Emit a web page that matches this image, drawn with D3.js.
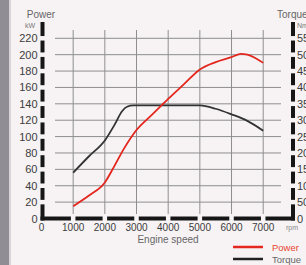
<!DOCTYPE html>
<html>
<head>
<meta charset="utf-8">
<script src="https://d3js.org/d3.v7.min.js"></script>
<style>
body { margin: 0; background: #f7f3f4; }
text { font-family: "Liberation Sans", Arial, sans-serif; }
</style>
</head>
<body>
<script>

var width = 306,
    height = 265;

// values
var rpmTicks = [1000, 2000, 3000, 4000, 5000, 6000, 7000];
var kwTicks = [0, 20, 40, 60, 80, 100, 120, 140, 160, 180, 200, 220];
var nmTicks = [0, 50, 100, 150, 200, 250, 300, 350, 400, 450, 500, 550];

var powerRpm = [1000, 1500, 2000, 2300, 2600, 3000, 3500, 4000, 4500, 5000, 5500, 6000, 6300, 6500, 6750, 7000];
var powerKw  = [15, 28, 44, 64, 85, 108, 127, 146, 164, 182, 191, 197, 201, 200, 196, 190];

var torqueRpm = [1000, 1500, 2000, 2300, 2550, 2700, 2900, 4000, 5000, 5500, 6000, 6500, 7000];
var torqueNm  = [140, 190, 238, 285, 328, 341, 345, 345, 345, 335, 318, 298, 268];

var svg = d3.select('body').append('svg')
  .attr('width', width)
  .attr('height', height);

svg.append('rect').attr('width', width).attr('height', height).attr('fill', '#f7f3f4');
svg.append('rect').attr('width', 9).attr('height', height).attr('fill', '#918d94');
svg.append('rect').attr('x', 9).attr('width', 2).attr('height', height).attr('fill', '#d8d4d8');

var x = d3.scaleLinear().domain([0, 7000]).range([41.5, 263.2]);
var yKw = d3.scaleLinear().domain([0, 220]).range([218.5, 38.3]);
var yNm = d3.scaleLinear().domain([0, 550]).range([218.5, 38.3]);

var leftX = 42.5, rightX = 293, baseY = 218.5, gap = 4.5;

// grid
svg.append('g').selectAll('line.v')
  .data(rpmTicks)
  .enter().append('line')
  .attr('x1', d => x(d)).attr('x2', d => x(d))
  .attr('y1', 30).attr('y2', 214)
  .attr('stroke', '#8e8e8e').attr('stroke-width', 1);

svg.append('g').selectAll('line.h')
  .data(kwTicks.slice(1))
  .enter().append('line')
  .attr('x1', 55).attr('x2', 281)
  .attr('y1', d => yKw(d)).attr('y2', d => yKw(d))
  .attr('stroke', '#8e8e8e').attr('stroke-width', 1);

// dashed axis bars, broken at each tick
function bars(stops, fn) {
  var segs = [];
  for (var i = 0; i < stops.length - 1; i++) segs.push([stops[i], stops[i + 1]]);
  svg.append('g').selectAll('line')
    .data(segs)
    .enter().append('line')
    .each(fn)
    .attr('stroke', '#161616').attr('stroke-width', 4);
}

var yStops = [baseY + 2].concat(kwTicks.slice(1).map(d => yKw(d)), [22]);
bars(yStops, function(s, i) {
  var a = i === 0 ? s[0] : s[0] - gap / 2,
      b = i === yStops.length - 2 ? s[1] : s[1] + gap / 2;
  d3.select(this).attr('x1', leftX).attr('x2', leftX).attr('y1', a).attr('y2', b);
});
bars(yStops, function(s, i) {
  var a = i === 0 ? s[0] : s[0] - gap / 2,
      b = i === yStops.length - 2 ? s[1] : s[1] + gap / 2;
  d3.select(this).attr('x1', rightX).attr('x2', rightX).attr('y1', a).attr('y2', b);
});
var xStops = [leftX - 2].concat(rpmTicks.map(d => x(d)), [rightX + 2]);
bars(xStops, function(s, i) {
  var a = i === 0 ? s[0] : s[0] + gap / 2,
      b = i === xStops.length - 2 ? s[1] : s[1] - gap / 2;
  d3.select(this).attr('x1', a).attr('x2', b).attr('y1', baseY).attr('y2', baseY);
});

// tick labels
svg.append('g').selectAll('text')
  .data(kwTicks)
  .enter().append('text')
  .attr('x', 37.5).attr('y', d => yKw(d) + 4)
  .attr('text-anchor', 'end')
  .attr('font-size', 11).attr('fill', '#3c3c3c')
  .text(d => d);

svg.append('g').selectAll('text')
  .data(nmTicks)
  .enter().append('text')
  .attr('x', 297).attr('y', d => yNm(d) + 4)
  .attr('font-size', 11).attr('fill', '#3c3c3c')
  .text(d => d);

svg.append('g').selectAll('text')
  .data([0].concat(rpmTicks))
  .enter().append('text')
  .attr('x', d => x(d)).attr('y', 231)
  .attr('text-anchor', 'middle')
  .attr('font-size', 10).attr('fill', '#3c3c3c')
  .text(d => d);

// titles
svg.append('text').attr('x', 41).attr('y', 18).attr('text-anchor', 'middle')
  .attr('font-size', 10).attr('fill', '#666').text('Power');
svg.append('text').attr('x', 25).attr('y', 28)
  .attr('font-size', 7).attr('fill', '#777').text('kW');
svg.append('text').attr('x', 277).attr('y', 18)
  .attr('font-size', 10).attr('fill', '#666').text('Torque');
svg.append('text').attr('x', 297).attr('y', 28)
  .attr('font-size', 7).attr('fill', '#777').text('Nm');
svg.append('text').attr('x', 286).attr('y', 230)
  .attr('font-size', 7).attr('fill', '#888').text('rpm');
svg.append('text').attr('x', 168).attr('y', 243).attr('text-anchor', 'middle')
  .attr('font-size', 10).attr('fill', '#666').text('Engine speed');

// curves
var power = powerRpm.map((r, i) => [r, powerKw[i]]);
var torque = torqueRpm.map((r, i) => [r, torqueNm[i]]);

svg.append('path').datum(torque)
  .attr('fill', 'none').attr('stroke', '#333').attr('stroke-width', 1.8)
  .attr('d', d3.line().x(d => x(d[0])).y(d => yNm(d[1])).curve(d3.curveMonotoneX));

svg.append('path').datum(power)
  .attr('fill', 'none').attr('stroke', '#e3261e').attr('stroke-width', 1.8)
  .attr('d', d3.line().x(d => x(d[0])).y(d => yKw(d[1])).curve(d3.curveMonotoneX));

// legend
svg.append('line').attr('x1', 233).attr('x2', 263).attr('y1', 247).attr('y2', 247)
  .attr('stroke', '#e3261e').attr('stroke-width', 2.5);
svg.append('text').attr('x', 272).attr('y', 250.5)
  .attr('font-size', 9.5).attr('fill', '#e8452f').text('Power');
svg.append('line').attr('x1', 233).attr('x2', 263).attr('y1', 259).attr('y2', 259)
  .attr('stroke', '#222').attr('stroke-width', 2.5);
svg.append('text').attr('x', 272).attr('y', 262.5)
  .attr('font-size', 9.5).attr('fill', '#666').text('Torque');

</script>
</body>
</html>
